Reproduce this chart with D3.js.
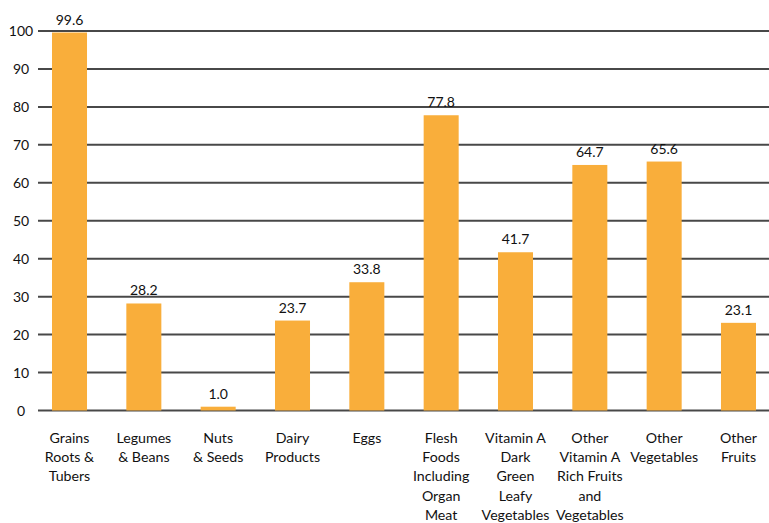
<!DOCTYPE html>
<html>
<head>
<meta charset="utf-8">
<script src="https://cdn.jsdelivr.net/npm/d3@7"></script>
<style>
  html, body { margin: 0; padding: 0; background: #fff; }
  svg { display: block; }
  text { font-family: Lato, "Open Sans", sans-serif; fill: #111; }
</style>
</head>
<body>
<svg id="chart" width="769" height="523"></svg>
<script>
// Food group categories (one label line per array entry)
const categories = [
  ["Grains", "Roots &", "Tubers"],
  ["Legumes", "& Beans"],
  ["Nuts", "& Seeds"],
  ["Dairy", "Products"],
  ["Eggs"],
  ["Flesh", "Foods", "Including", "Organ", "Meat"],
  ["Vitamin A", "Dark", "Green", "Leafy", "Vegetables"],
  ["Other", "Vitamin A", "Rich Fruits", "and", "Vegetables"],
  ["Other", "Vegetables"],
  ["Other", "Fruits"]
];
// Percentage for each food group
const values = [99.6, 28.2, 1.0, 23.7, 33.8, 77.8, 41.7, 64.7, 65.6, 23.1];
// Value-axis ticks
const yTicks = [0, 10, 20, 30, 40, 50, 60, 70, 80, 90, 100];

const svg = d3.select("#chart");
const keys = categories.map(c => c.join(" "));

const x = d3.scaleBand()
  .domain(keys)
  .range([52, 756])
  .paddingInner(0.529)
  .paddingOuter(0);

const y = d3.scaleLinear()
  .domain([0, 100])
  .range([410.5, 31]);

// Horizontal gridlines
svg.append("g")
  .selectAll("line")
  .data(yTicks)
  .join("line")
  .attr("x1", 38)
  .attr("x2", 769)
  .attr("y1", d => y(d))
  .attr("y2", d => y(d))
  .attr("stroke", "#484848")
  .attr("stroke-width", 2);

// Tick labels
svg.append("g")
  .selectAll("text")
  .data(yTicks)
  .join("text")
  .attr("x", 21)
  .attr("y", d => y(d))
  .attr("dy", "0.36em")
  .attr("text-anchor", "middle")
  .attr("font-size", 14)
  .text(d => d);

// Bars
svg.append("g")
  .selectAll("rect")
  .data(values)
  .join("rect")
  .attr("x", (d, i) => x(keys[i]))
  .attr("width", x.bandwidth())
  .attr("y", d => y(d))
  .attr("height", d => y(0) - y(d))
  .attr("fill", "#F9AE3B");

// Value labels above bars
svg.append("g")
  .selectAll("text")
  .data(values)
  .join("text")
  .attr("x", (d, i) => x(keys[i]) + x.bandwidth() / 2)
  .attr("y", d => y(d) - 8)
  .attr("text-anchor", "middle")
  .attr("font-size", 14)
  .text(d => d.toFixed(1));

// Category labels, multi-line
const cat = svg.append("g")
  .selectAll("text")
  .data(categories)
  .join("text")
  .attr("text-anchor", "middle")
  .attr("font-size", 14.2)
  .attr("transform", (d, i) => `translate(${x(keys[i]) + x.bandwidth() / 2},443)`);
cat.selectAll("tspan")
  .data(d => d)
  .join("tspan")
  .attr("x", 0)
  .attr("y", (d, j) => j * 19.2)
  .text(d => d);
</script>
</body>
</html>
